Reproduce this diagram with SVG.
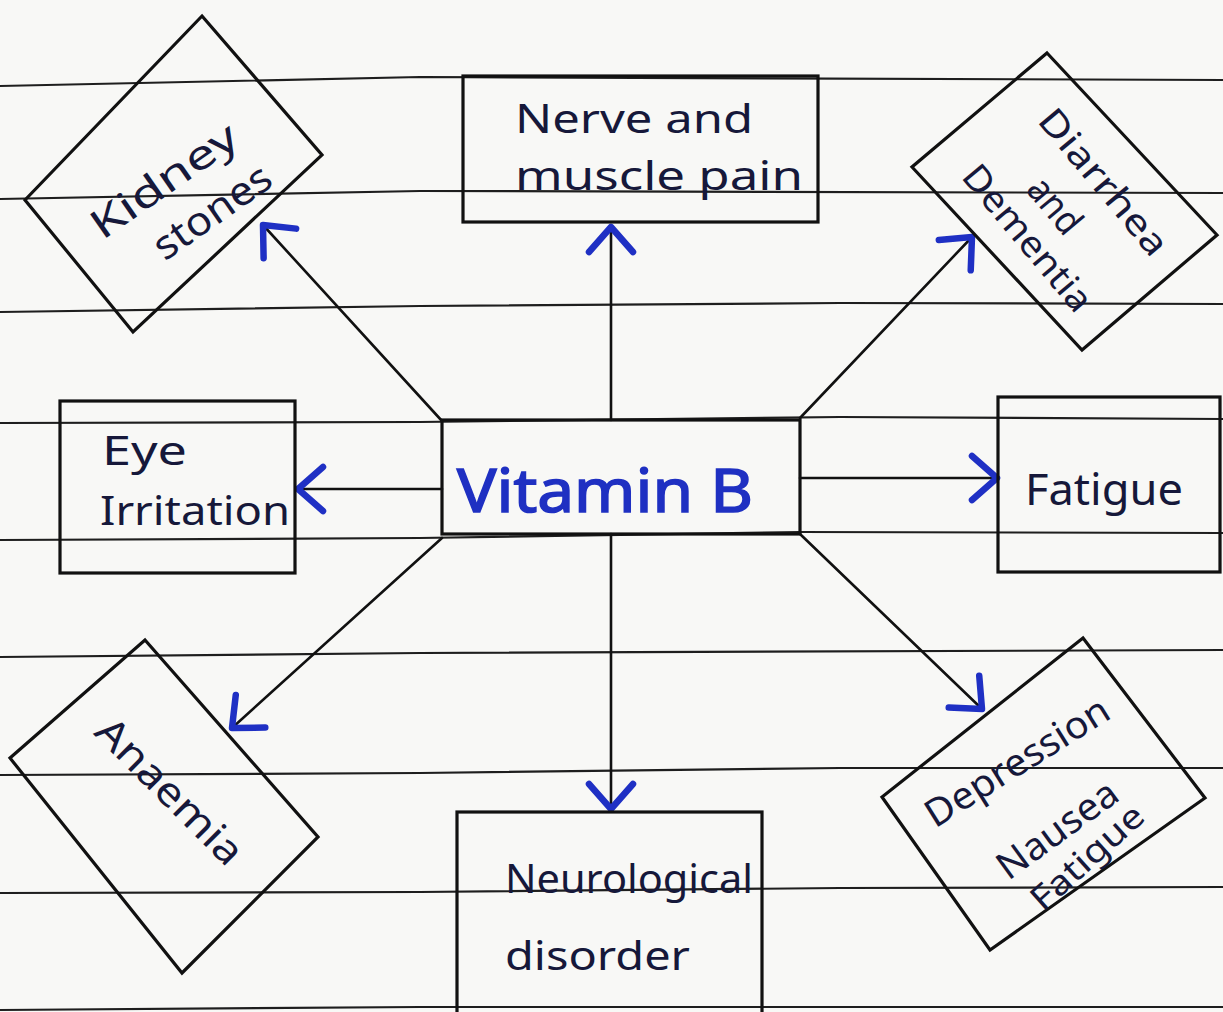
<svg xmlns="http://www.w3.org/2000/svg" width="1223" height="1012" viewBox="0 0 1223 1012">
  <style>
    .rule { fill: none; stroke: #1e1e1e; stroke-width: 2.2; stroke-linejoin: round; }
    .box { fill: none; stroke: #111; stroke-width: 3.2; stroke-linejoin: miter; }
    .conn { fill: none; stroke: #111; stroke-width: 2.6; stroke-linecap: round; }
    .lbl { font-family: "Noto Sans", "DejaVu Sans", sans-serif; fill: #16183a; }
    .main { font-family: "Noto Sans", "DejaVu Sans", sans-serif; fill: #1f30c2; stroke: #1f30c2; stroke-width: 1.6; }
  </style>
  <defs>
    <marker id="ah" markerUnits="userSpaceOnUse" markerWidth="60" markerHeight="60" viewBox="-40 -30 60 60" refX="0" refY="0" orient="auto" overflow="visible">
      <path d="M-25,-22 L0,0 L-25,22" fill="none" stroke="#1f30c4" stroke-width="6.5" stroke-linecap="round" stroke-linejoin="round"/>
    </marker>
  </defs>

  <rect x="0" y="0" width="1223" height="1012" fill="#f8f8f6"/>

  <g id="paper">
    <polyline class="rule" points="0,86 420,77 1223,80"/>
    <polyline class="rule" points="0,199 420,191 1223,193"/>
    <polyline class="rule" points="0,312 420,306 840,303 1223,304"/>
    <polyline class="rule" points="0,423 420,422 840,417 1223,419"/>
    <polyline class="rule" points="0,540 420,538 800,532 1223,533"/>
    <polyline class="rule" points="0,657 420,653 1223,650"/>
    <polyline class="rule" points="0,775 420,773 840,768 1223,768"/>
    <polyline class="rule" points="0,893 420,892 840,888 1223,887"/>
    <polyline class="rule" points="0,1010 420,1007 1223,1007"/>
  </g>

  <g id="connectors">
    <line class="conn" x1="442" y1="421" x2="263" y2="225" marker-end="url(#ah)"/>
    <line class="conn" x1="611" y1="420" x2="611" y2="227" marker-end="url(#ah)"/>
    <line class="conn" x1="800" y1="418" x2="972" y2="237" marker-end="url(#ah)"/>
    <line class="conn" x1="800" y1="478" x2="997" y2="478" marker-end="url(#ah)"/>
    <line class="conn" x1="800" y1="534" x2="982" y2="709" marker-end="url(#ah)"/>
    <line class="conn" x1="611" y1="534" x2="611" y2="809" marker-end="url(#ah)"/>
    <line class="conn" x1="442" y1="538" x2="232" y2="728" marker-end="url(#ah)"/>
    <line class="conn" x1="442" y1="489" x2="298" y2="489" marker-end="url(#ah)"/>
  </g>

  <g id="vitamin-b">
    <rect class="box" x="442" y="420" width="358" height="114"/>
    <text class="main" x="457" y="512" font-size="60" textLength="296" lengthAdjust="spacingAndGlyphs">Vitamin B</text>
  </g>

  <g id="kidney-stones">
    <polygon class="box" points="202,16 322,155 133,332 25,200"/>
    <text class="lbl" font-size="40" text-anchor="middle" textLength="170" lengthAdjust="spacingAndGlyphs" transform="translate(172,192) rotate(-35)">Kidney</text>
    <text class="lbl" font-size="40" text-anchor="middle" textLength="135" lengthAdjust="spacingAndGlyphs" transform="translate(220,223) rotate(-35)">stones</text>
  </g>

  <g id="nerve-muscle-pain">
    <rect class="box" x="463" y="76" width="355" height="146"/>
    <text class="lbl" x="515" y="133" font-size="40" textLength="238" lengthAdjust="spacingAndGlyphs">Nerve and</text>
    <text class="lbl" x="515" y="190" font-size="40" textLength="288" lengthAdjust="spacingAndGlyphs">muscle pain</text>
  </g>

  <g id="diarrhea-dementia">
    <polygon class="box" points="1047,53 1217,235 1082,350 912,167"/>
    <text class="lbl" font-size="36" text-anchor="middle" textLength="180" lengthAdjust="spacingAndGlyphs" transform="translate(1094,190) rotate(50)">Diarrhea</text>
    <text class="lbl" font-size="38" text-anchor="middle" textLength="62" lengthAdjust="spacingAndGlyphs" transform="translate(1045,214) rotate(50)">and</text>
    <text class="lbl" font-size="36" text-anchor="middle" textLength="180" lengthAdjust="spacingAndGlyphs" transform="translate(1018,246) rotate(50)">Dementia</text>
  </g>

  <g id="eye-irritation">
    <rect class="box" x="60" y="401" width="235" height="172"/>
    <text class="lbl" x="102" y="465" font-size="40" textLength="85" lengthAdjust="spacingAndGlyphs">Eye</text>
    <text class="lbl" x="100" y="525" font-size="40" textLength="190" lengthAdjust="spacingAndGlyphs">Irritation</text>
  </g>

  <g id="fatigue">
    <rect class="box" x="998" y="397" width="222" height="175"/>
    <text class="lbl" x="1025" y="505" font-size="44" textLength="158" lengthAdjust="spacingAndGlyphs">Fatigue</text>
  </g>

  <g id="anaemia">
    <polygon class="box" points="145,640 318,837 182,973 10,758"/>
    <text class="lbl" font-size="40" text-anchor="middle" textLength="190" lengthAdjust="spacingAndGlyphs" transform="translate(160,801) rotate(45)">Anaemia</text>
  </g>

  <g id="neurological-disorder">
    <rect class="box" x="457" y="812" width="305" height="210"/>
    <text class="lbl" x="505" y="893" font-size="40" textLength="248" lengthAdjust="spacingAndGlyphs">Neurological</text>
    <text class="lbl" x="505" y="970" font-size="40" textLength="185" lengthAdjust="spacingAndGlyphs">disorder</text>
  </g>

  <g id="depression-nausea-fatigue">
    <polygon class="box" points="1083,638 1205,798 990,950 882,797"/>
    <text class="lbl" font-size="38" text-anchor="middle" textLength="210" lengthAdjust="spacingAndGlyphs" transform="translate(1024,773) rotate(-32)">Depression</text>
    <text class="lbl" font-size="38" text-anchor="middle" textLength="140" lengthAdjust="spacingAndGlyphs" transform="translate(1065,840) rotate(-36)">Nausea</text>
    <text class="lbl" font-size="34" text-anchor="middle" textLength="140" lengthAdjust="spacingAndGlyphs" transform="translate(1095,866) rotate(-42)">Fatigue</text>
  </g>
</svg>
